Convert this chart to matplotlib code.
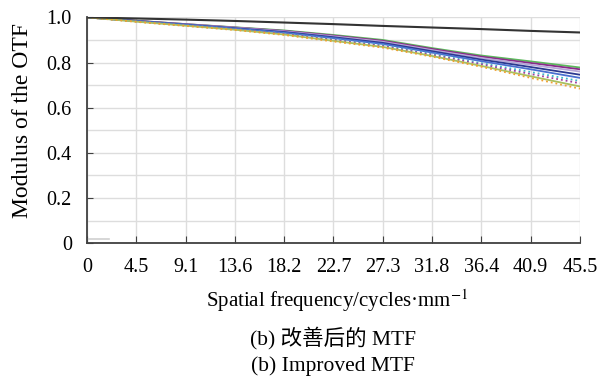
import numpy as np
import matplotlib.pyplot as plt

plt.rcParams['font.family'] = ['Liberation Serif', 'Noto Sans CJK SC']
plt.rcParams['mathtext.fontset'] = 'stix'

freq_labels = ['0', '4.5', '9.1', '13.6', '18.2', '22.7', '27.3', '31.8', '36.4', '40.9', '45.5']

diffraction = [1.0, 0.995, 0.990, 0.984, 0.977, 0.970, 0.962, 0.955, 0.948, 0.940, 0.933]
green = [1.0, 0.985, 0.970, 0.956, 0.942, 0.922, 0.900, 0.864, 0.831, 0.805, 0.778]
purple = [1.0, 0.985, 0.970, 0.955, 0.940, 0.919, 0.896, 0.860, 0.826, 0.798, 0.770]
lavender = [1.0, 0.984, 0.969, 0.954, 0.938, 0.916, 0.892, 0.855, 0.820, 0.790, 0.760]
navy = [1.0, 0.984, 0.968, 0.952, 0.935, 0.912, 0.887, 0.850, 0.813, 0.780, 0.746]
blue = [1.0, 0.983, 0.967, 0.950, 0.932, 0.908, 0.882, 0.844, 0.806, 0.770, 0.732]
cyan = [1.0, 0.982, 0.965, 0.948, 0.929, 0.903, 0.877, 0.838, 0.797, 0.758, 0.718]
magenta = [1.0, 0.982, 0.964, 0.947, 0.927, 0.900, 0.873, 0.834, 0.792, 0.749, 0.708]
olive = [1.0, 0.981, 0.963, 0.945, 0.924, 0.896, 0.869, 0.829, 0.785, 0.739, 0.694]
orange = [1.0, 0.980, 0.962, 0.944, 0.922, 0.893, 0.866, 0.826, 0.781, 0.732, 0.684]

# short grey stub near the origin
stub_x = [0, 0.45]
stub_y = [0.017, 0.017]

x = np.arange(len(freq_labels))

fig = plt.figure(figsize=(6.13, 3.77), dpi=100)
ax = fig.add_axes([0.142, 0.355, 0.804, 0.599])

ax.plot(x, green, color='#5cb85c', lw=1.3)
ax.plot(x, purple, color='#8a2b8a', lw=1.3)
ax.plot(x, lavender, color='#b6a6d8', lw=1.3)
ax.plot(x, navy, color='#2b3990', lw=1.3)
ax.plot(x, blue, color='#4a6fd0', lw=1.3)
ax.plot(x, cyan, color='#3bb8c8', lw=1.3, ls=':')
ax.plot(x, magenta, color='#a040a0', lw=1.3, ls=':')
ax.plot(x, olive, color='#a8c060', lw=1.3)
ax.plot(x, orange, color='#f0a030', lw=1.3, ls=':')
ax.plot(x, diffraction, color='#333333', lw=1.5)
ax.plot(stub_x, stub_y, color='#d0d0d0', lw=1.2)

ax.set_xlim(0, 10)
ax.set_ylim(0, 1.0)
ax.set_xticks(x)
ax.set_xticklabels(freq_labels)
ax.set_yticks([0, 0.2, 0.4, 0.6, 0.8, 1.0])
ax.set_yticklabels(['0', '0.2', '0.4', '0.6', '0.8', '1.0'])
ax.set_yticks(np.arange(0.1, 1.0, 0.2), minor=True)
ax.grid(True, which='both', color='#dddddd', lw=1.0)
ax.set_axisbelow(True)
ax.tick_params(axis='x', direction='in', length=5, labelsize=14.5, pad=11, color='#404040')
ax.tick_params(axis='y', direction='in', length=4, labelsize=14.5, pad=11, color='#404040')
ax.tick_params(axis='y', which='minor', length=0)
for s in ['top', 'right']:
    ax.spines[s].set_visible(False)
for s in ['left', 'bottom']:
    ax.spines[s].set_color('#404040')
    ax.spines[s].set_linewidth(1.3)

ax.set_ylabel('Modulus of the OTF', fontsize=17)
ax.yaxis.set_label_coords(-0.13, 0.545)
ax.yaxis.label.set_va('center')
ax.set_xlabel('Spatial frequency/cycles·mm$^{-1}$', fontsize=15)
ax.xaxis.set_label_coords(0.507, -0.253)
ax.xaxis.label.set_va('center')

fig.text(0.543, 0.103, '(b) 改善后的 MTF', ha='center', va='center', fontsize=15.5)
fig.text(0.543, 0.029, '(b) Improved MTF', ha='center', va='center', fontsize=15.5)

fig.savefig('out.png', dpi=100)
